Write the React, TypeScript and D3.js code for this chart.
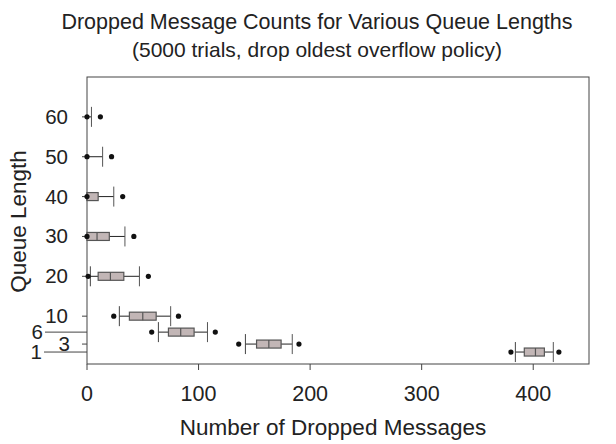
import React from "react";
import * as d3 from "d3";

const queueLengths = [1, 3, 6, 10, 20, 30, 40, 50, 60];
const minVals = [380, 136, 58, 24, 1, 0, 0, 0, 0];
const lowWhisker = [384, 142, 64, 29, 3, 0, 0, 0, 0];
const q1Vals = [392, 152, 73, 38, 10, 0, 0, 0, 0];
const medianVals = [402, 163, 84, 50, 21, 9, 0, 0, 0];
const q3Vals = [410, 174, 96, 62, 33, 20, 10, 0, 0];
const highWhisker = [418, 184, 108, 75, 47, 34, 24, 14, 4];
const maxVals = [423, 190, 115, 82, 55, 42, 32, 22, 12];
const xTicks = [0, 100, 200, 300, 400];

const W = 616, H = 444;
const left = 87, right = 589, top = 77, bottom = 364;

export default function App() {
  const x = d3.scaleLinear().domain([0, 450]).range([left, right]);
  const y = d3.scaleLinear().domain([-2, 70]).range([bottom, top]);
  const font = "Liberation Sans, Arial, sans-serif";
  const boxH = 8, capH = 20;
  const tickFs = 20.5;
  const labelOffset: Record<number, number> = { 1: 44, 6: 45 };
  return (
    <svg width={W} height={H} style={{ position: "absolute", left: 0, top: 0 }} fontFamily={font}>
      <rect width={W} height={H} fill="#fff" />
      <text x={317} y={29} textAnchor="middle" fontSize={21.5} fill="#222">Dropped Message Counts for Various Queue Lengths</text>
      <text x={317} y={57} textAnchor="middle" fontSize={21} fill="#222">(5000 trials, drop oldest overflow policy)</text>
      <rect x={left} y={top} width={right - left} height={bottom - top} fill="none" stroke="#444" strokeWidth={1} />
      {xTicks.map((t) => (
        <g key={t}>
          <line x1={x(t)} x2={x(t)} y1={bottom} y2={bottom + 6} stroke="#444" />
          <text x={x(t)} y={401} textAnchor="middle" fontSize={tickFs + 1} fill="#222">{t}</text>
        </g>
      ))}
      <text x={333} y={435} textAnchor="middle" fontSize={22.5} fill="#222">Number of Dropped Messages</text>
      <text transform={`translate(26,${(top + bottom) / 2 + 1}) rotate(-90)`} textAnchor="middle" fontSize={22.5} fill="#222">Queue Length</text>
      {queueLengths.map((q) => {
        const off = labelOffset[q];
        const yy = y(q);
        return (
          <g key={"yt" + q}>
            <line x1={off ? off : left - 5} x2={left} y1={yy} y2={yy} stroke="#444" />
            <text x={off ? off - 2 : q === 3 ? 70 : 68} y={yy + 7} textAnchor="end" fontSize={tickFs} fill="#222">{q}</text>
          </g>
        );
      })}
      {queueLengths.map((q, i) => {
        const yy = y(q);
        return (
          <g key={"b" + q}>
            <line x1={x(lowWhisker[i])} x2={x(q1Vals[i])} y1={yy} y2={yy} stroke="#222" />
            <line x1={x(q3Vals[i])} x2={x(highWhisker[i])} y1={yy} y2={yy} stroke="#222" />
            {lowWhisker[i] !== q1Vals[i] || lowWhisker[i] > 0 ? (
              <line x1={x(lowWhisker[i])} x2={x(lowWhisker[i])} y1={yy - capH / 2} y2={yy + capH / 2} stroke="#444" />
            ) : null}
            <line x1={x(highWhisker[i])} x2={x(highWhisker[i])} y1={yy - capH / 2} y2={yy + capH / 2} stroke="#555" />
            {q3Vals[i] > q1Vals[i] ? (
              <g>
                <rect x={x(q1Vals[i])} y={yy - boxH / 2} width={x(q3Vals[i]) - x(q1Vals[i])} height={boxH} fill="#c2b6b6" stroke="#555" strokeWidth={1.2} />
                <line x1={x(medianVals[i])} x2={x(medianVals[i])} y1={yy - boxH / 2} y2={yy + boxH / 2} stroke="#555" strokeWidth={1.2} />
              </g>
            ) : null}
            <circle cx={x(minVals[i])} cy={yy} r={2.6} fill="#111" />
            <circle cx={x(maxVals[i])} cy={yy} r={2.6} fill="#111" />
          </g>
        );
      })}
    </svg>
  );
}
